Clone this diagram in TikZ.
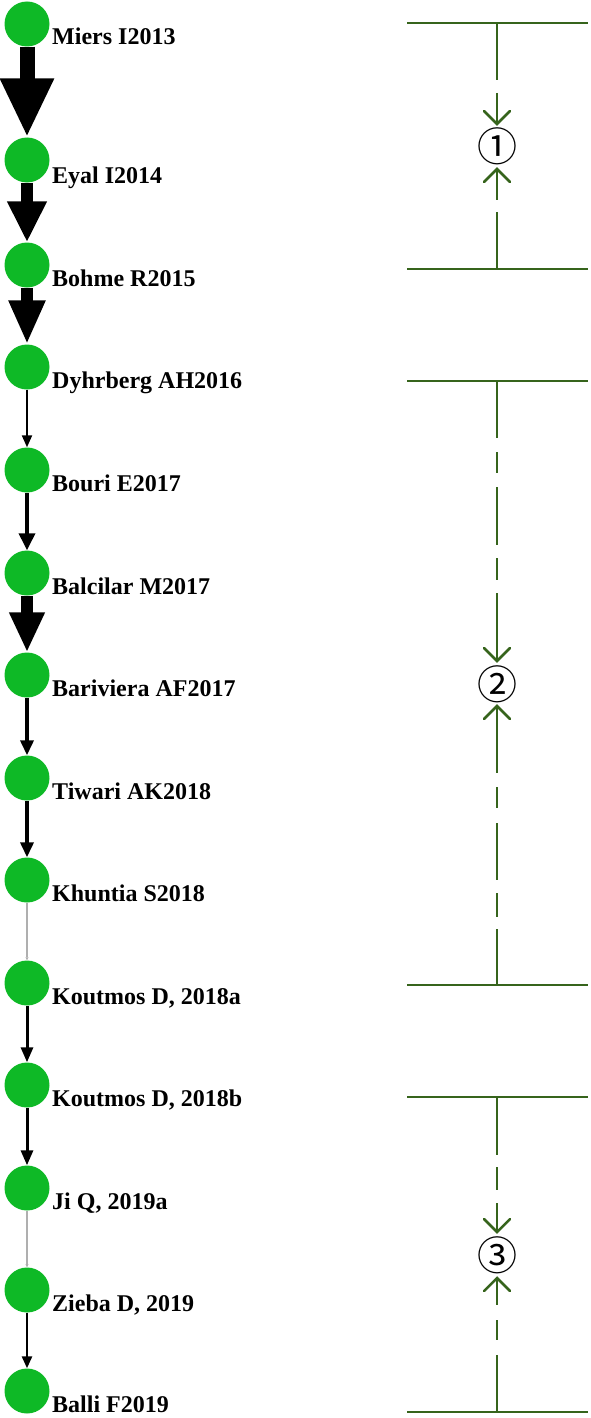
\documentclass[tikz,border=0pt]{standalone}
\usepackage{fontspec}
\setmainfont{Liberation Serif}
\newfontfamily\symfont{Noto Sans CJK SC}
\usetikzlibrary{arrows.meta}
\definecolor{nodegreen}{RGB}{14,185,38}
\definecolor{brgreen}{RGB}{54,100,28}
\definecolor{linkgray}{RGB}{175,175,175}
\begin{document}
\begin{tikzpicture}[x=1pt,y=-1pt,
  paper/.style={circle,fill=nodegreen,minimum size=45pt,inner sep=0pt},
  lbl/.style={anchor=base west,inner sep=0pt,font=\fontsize{24}{29}\selectfont\bfseries},
  cite/.style n args={3}{draw=black,line width=#1pt,-{Triangle[width=#2pt,length=#3pt]}},
  weak/.style={draw=linkgray,line width=1.5pt,-{Triangle[width=3pt,length=3pt]}},
  brline/.style={draw=brgreen,line width=2.5pt},
  barb/.style={draw=brgreen,line width=2.5pt,line cap=round},
  num/.style={inner sep=0pt,font=\symfont\fontsize{40}{40}\selectfont}]
\useasboundingbox (0,0) rectangle (590,1418);
% papers
\node[paper] (n1) at (27,24) {};
\node[paper] (n2) at (27,160) {};
\node[paper] (n3) at (27,265) {};
\node[paper] (n4) at (27,367) {};
\node[paper] (n5) at (27,470) {};
\node[paper] (n6) at (27,573) {};
\node[paper] (n7) at (27,675) {};
\node[paper] (n8) at (27,778) {};
\node[paper] (n9) at (27,880) {};
\node[paper] (n10) at (27,983) {};
\node[paper] (n11) at (27,1085) {};
\node[paper] (n12) at (27,1188) {};
\node[paper] (n13) at (27,1290) {};
\node[paper] (n14) at (27,1391) {};
% labels
\node[lbl] (t1) at (52,45) {Miers I2013};
\node[lbl] (t2) at (52,183) {Eyal I2014};
\node[lbl] (t3) at (52,286) {Bohme R2015};
\node[lbl] (t4) at (52,388) {Dyhrberg AH2016};
\node[lbl] (t5) at (52,491) {Bouri E2017};
\node[lbl] (t6) at (52,594) {Balcilar M2017};
\node[lbl] (t7) at (52,696) {Bariviera AF2017};
\node[lbl] (t8) at (52,799) {Tiwari AK2018};
\node[lbl] (t9) at (52,901) {Khuntia S2018};
\node[lbl] (t10) at (52,1004) {Koutmos D, 2018a};
\node[lbl] (t11) at (52,1106) {Koutmos D, 2018b};
\node[lbl] (t12) at (52,1209) {Ji Q, 2019a};
\node[lbl] (t13) at (52,1311) {Zieba D, 2019};
\node[lbl] (t14) at (52,1412) {Balli F2019};
% citation links
\draw[cite={15}{50}{59}] (n1.south) -- (n2.north);
\draw[cite={12}{37}{41}] (n2.south) -- (n3.north);
\draw[cite={12}{34}{44}] (n3.south) -- (n4.north);
\draw[cite={2}{10}{12}] (n4.south) -- (n5.north);
\draw[cite={3.5}{16}{17}] (n5.south) -- (n6.north);
\draw[cite={12}{33}{40}] (n6.south) -- (n7.north);
\draw[cite={3.5}{13}{15}] (n7.south) -- (n8.north);
\draw[cite={3.5}{13}{15}] (n8.south) -- (n9.north);
\draw[weak] (n9.south) -- (n10.north);
\draw[cite={3}{12}{15}] (n10.south) -- (n11.north);
\draw[cite={3}{12}{15}] (n11.south) -- (n12.north);
\draw[weak] (n12.south) -- (n13.north);
\draw[cite={2.5}{10}{12}] (n13.south) -- (n14.north);
% stage markers
\node[num] (c1) at (497,146.5) {①};
\node[num] (c2) at (497,684) {②};
\node[num] (c3) at (497,1255) {③};
% bracket 1
\coordinate (a1) at (497,23);
\coordinate (z1) at (497,269);
\draw[brline] (407,23) -- (588,23);
\draw[brline] (407,269) -- (588,269);
\draw[brline] (a1) -- (497,80);
\draw[brline] (497,93) -- (497,124);
\draw[barb] (484,111) -- (497,124) -- (510,111);
\draw[brline] (497,169) -- (497,200);
\draw[barb] (484,182) -- (497,169) -- (510,182);
\draw[brline] (497,212) -- (z1);
% bracket 2
\coordinate (a2) at (497,381);
\coordinate (z2) at (497,985);
\draw[brline] (407,381) -- (588,381);
\draw[brline] (407,985) -- (588,985);
\draw[brline] (a2) -- (497,438);
\draw[brline] (497,452) -- (497,473);
\draw[brline] (497,487) -- (497,545);
\draw[brline] (497,558) -- (497,580);
\draw[brline] (497,593) -- (497,661);
\draw[barb] (484,648) -- (497,661) -- (510,648);
\draw[brline] (497,706) -- (497,773);
\draw[barb] (484,719) -- (497,706) -- (510,719);
\draw[brline] (497,787) -- (497,808);
\draw[brline] (497,823) -- (497,880);
\draw[brline] (497,893) -- (497,917);
\draw[brline] (497,929) -- (z2);
% bracket 3
\coordinate (a3) at (497,1097);
\coordinate (z3) at (497,1412);
\draw[brline] (407,1097) -- (588,1097);
\draw[brline] (407,1412) -- (588,1412);
\draw[brline] (a3) -- (497,1155);
\draw[brline] (497,1167) -- (497,1190);
\draw[brline] (497,1203) -- (497,1232);
\draw[barb] (484,1219) -- (497,1232) -- (510,1219);
\draw[brline] (497,1278) -- (497,1305);
\draw[barb] (484,1291) -- (497,1278) -- (510,1291);
\draw[brline] (497,1320) -- (497,1340);
\draw[brline] (497,1355) -- (z3);
\end{tikzpicture}
\end{document}
